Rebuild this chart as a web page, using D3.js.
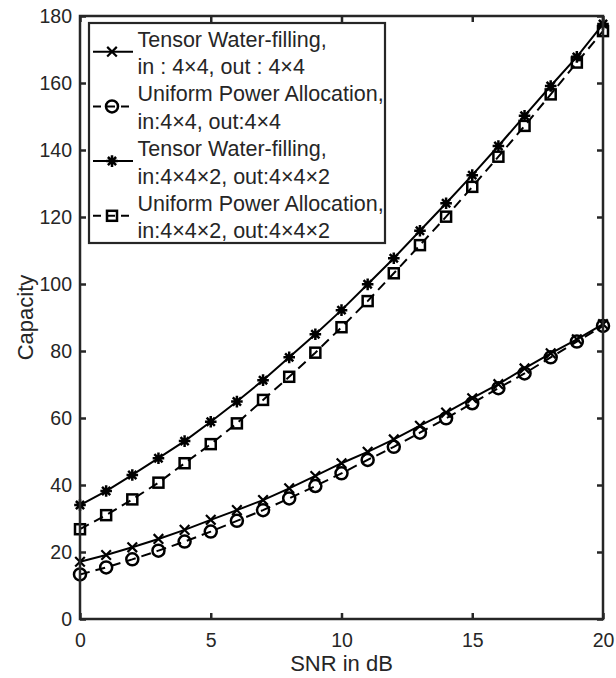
<!DOCTYPE html>
<html>
<head>
<meta charset="utf-8">
<script src="https://cdn.jsdelivr.net/npm/d3@7"></script>
<style>
  html, body { margin: 0; padding: 0; background: #fff; }
  svg { display: block; }
  text { font-family: "Liberation Sans", Arial, Helvetica, sans-serif; fill: #262626; }
</style>
</head>
<body>
<svg id="chart" width="616" height="678"></svg>
<script>
// ---- data ----
const snr = [0,1,2,3,4,5,6,7,8,9,10,11,12,13,14,15,16,17,18,19,20];
const twf44  = [17.1,19.1,21.4,23.9,26.6,29.6,32.5,35.5,39.0,42.7,46.5,49.9,53.6,57.7,61.6,65.9,70.1,74.8,79.3,83.5,88.0];
const upa44  = [13.3,15.4,17.8,20.4,23.1,26.1,29.3,32.5,36.0,39.7,43.5,47.5,51.4,55.6,59.9,64.4,68.9,73.3,78.1,82.8,87.5];
const twf442 = [34.0,38.2,43.0,48.0,53.1,58.9,64.9,71.3,78.1,85.0,92.2,99.9,107.7,115.9,124.1,132.5,141.2,150.2,159.1,167.8,177.6];
const upa442 = [26.8,31.0,35.7,40.7,46.5,52.2,58.4,65.4,72.3,79.5,87.1,94.9,103.2,111.6,120.1,129.0,138.0,147.2,156.6,166.1,175.5];
const xTicks = [0,5,10,15,20];
const yTicks = [0,20,40,60,80,100,120,140,160,180];
const legendLabels = [
  ["Tensor Water-filling,", "in : 4\u00d74, out : 4\u00d74"],
  ["Uniform Power Allocation,", "in:4\u00d74, out:4\u00d74"],
  ["Tensor Water-filling,", "in:4\u00d74\u00d72, out:4\u00d74\u00d72"],
  ["Uniform Power Allocation,", "in:4\u00d74\u00d72, out:4\u00d74\u00d72"]
];
const xLabel = "SNR in dB";
const yLabel = "Capacity";

const seriesDefs = [
  {values: twf44,  dashed: false, marker: "x"},
  {values: upa44,  dashed: true,  marker: "o"},
  {values: twf442, dashed: false, marker: "*"},
  {values: upa442, dashed: true,  marker: "s"}
];

// ---- layout ----
const svg = d3.select("#chart");
const L = 80, R = 603, T = 16, B = 619;
const x = d3.scaleLinear().domain([0,20]).range([L,R]);
const y = d3.scaleLinear().domain([0,180]).range([B,T]);
const axisColor = "#262626";
const lineColor = "#000";

function drawMarker(g, type, cx, cy) {
  const sw = 2.2;
  if (type === "x") {
    const s = 4.8;
    g.append("path").attr("d", `M${cx-s},${cy-s}L${cx+s},${cy+s}M${cx-s},${cy+s}L${cx+s},${cy-s}`)
      .attr("stroke", lineColor).attr("stroke-width", sw).attr("fill","none");
  } else if (type === "o") {
    g.append("circle").attr("cx",cx).attr("cy",cy).attr("r",6)
      .attr("stroke", lineColor).attr("stroke-width", sw+0.3).attr("fill","none");
  } else if (type === "*") {
    const s = 5.8, d = s*0.7071;
    g.append("path").attr("d",
      `M${cx-s},${cy}L${cx+s},${cy}M${cx},${cy-s}L${cx},${cy+s}M${cx-d},${cy-d}L${cx+d},${cy+d}M${cx-d},${cy+d}L${cx+d},${cy-d}`)
      .attr("stroke", lineColor).attr("stroke-width", sw+0.3).attr("fill","none");
  } else if (type === "s") {
    const s = 5;
    g.append("rect").attr("x",cx-s).attr("y",cy-s).attr("width",2*s).attr("height",2*s)
      .attr("stroke", lineColor).attr("stroke-width", sw+0.3).attr("fill","none");
  }
}

// ---- series ----
const plot = svg.append("g");
const lineGen = d3.line().x((d,i)=>x(snr[i])).y(d=>y(d));
seriesDefs.forEach(s => {
  plot.append("path").datum(s.values).attr("d", lineGen)
    .attr("fill","none").attr("stroke", lineColor).attr("stroke-width", 2)
    .attr("stroke-dasharray", s.dashed ? "10,6" : null);
  const mg = plot.append("g");
  s.values.forEach((v,i) => drawMarker(mg, s.marker, x(snr[i]), y(v)));
});

// ---- axes ----
const ax = svg.append("g");
const fs = 19.5;
ax.append("rect").attr("x",L).attr("y",T).attr("width",R-L).attr("height",B-T)
  .attr("fill","none").attr("stroke",axisColor).attr("stroke-width",2.5);

const xAxisB = d3.axisBottom(x).tickValues(xTicks).tickSize(-6).tickPadding(18).tickFormat(d3.format("d"));
const gx = ax.append("g").attr("transform",`translate(0,${B})`).call(xAxisB);
const xAxisT = d3.axisTop(x).tickValues(xTicks).tickSize(-6).tickFormat("");
const gxt = ax.append("g").attr("transform",`translate(0,${T})`).call(xAxisT);
const yAxisL = d3.axisLeft(y).tickValues(yTicks).tickSize(-6).tickPadding(14).tickFormat(d3.format("d"));
const gy = ax.append("g").attr("transform",`translate(${L},0)`).call(yAxisL);
const yAxisR = d3.axisRight(y).tickValues(yTicks).tickSize(-6).tickFormat("");
const gyr = ax.append("g").attr("transform",`translate(${R},0)`).call(yAxisR);
[gx,gxt,gy,gyr].forEach(g => {
  g.select(".domain").remove();
  g.selectAll("line").attr("stroke",axisColor).attr("stroke-width",2.5);
  g.selectAll("text").style("font-family",'"Liberation Sans", Arial, Helvetica, sans-serif')
    .style("font-size", fs+"px").attr("fill",axisColor);
});
gx.selectAll("text").attr("dy","0.71em").attr("y", 14);
gy.selectAll("text").attr("x", -8).attr("dy","0.35em");

// axis labels
svg.append("text").attr("x",(L+R)/2).attr("y",671).attr("text-anchor","middle")
  .style("font-size", "22px").text(xLabel);
svg.append("text").attr("transform",`translate(33,${(T+B)/2}) rotate(-90)`).attr("text-anchor","middle")
  .style("font-size", "22px").text(yLabel);

// ---- legend ----
const lg = svg.append("g");
lg.append("rect").attr("x",89).attr("y",23).attr("width",385-89).attr("height",243-23)
  .attr("fill","#fff").attr("stroke",axisColor).attr("stroke-width",2.2);
seriesDefs.forEach((s,i) => {
  const base = 46.7 + i*54.7;
  const my = base + 5;
  lg.append("line").attr("x1",93).attr("x2",133).attr("y1",my).attr("y2",my)
    .attr("stroke",lineColor).attr("stroke-width",2)
    .attr("stroke-dasharray", s.dashed ? "8,6" : null);
  drawMarker(lg, s.marker, 112, my);
  legendLabels[i].forEach((t,j) => {
    lg.append("text").attr("x",137.5).attr("y", base + j*27.5)
      .style("font-size","21.5px").attr("fill","#000").text(t);
  });
});
</script>
</body>
</html>
